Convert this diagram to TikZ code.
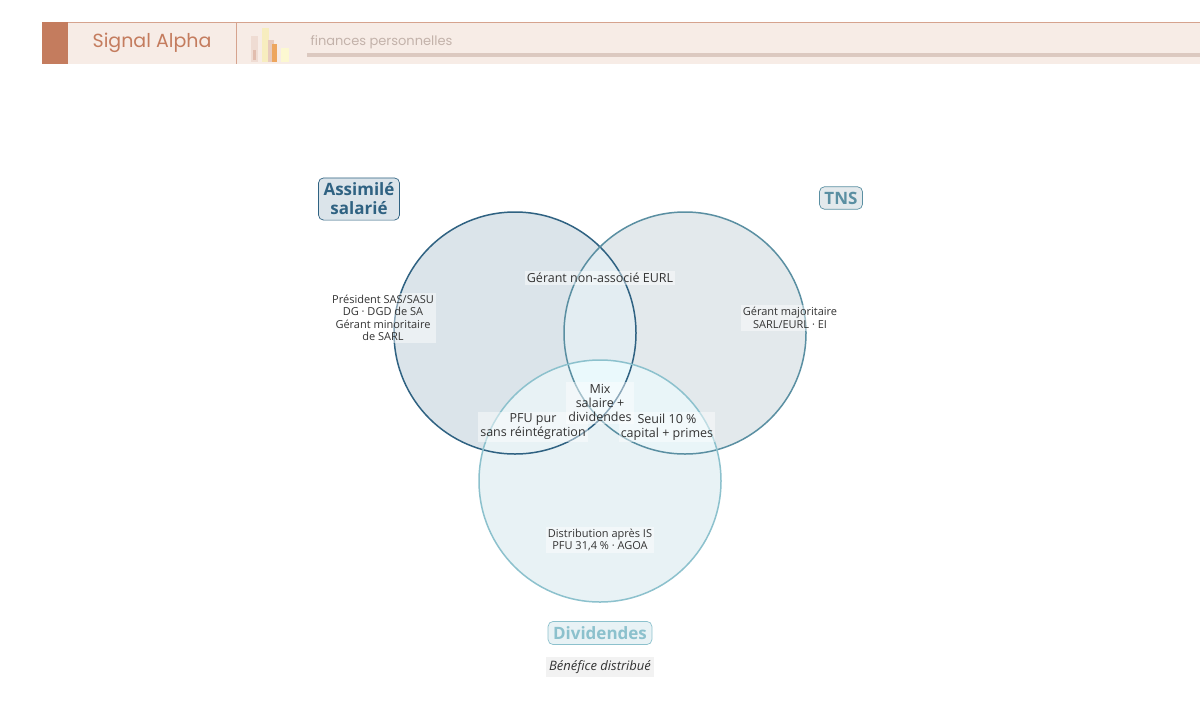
\documentclass[tikz,border=0pt]{standalone}
\usepackage{fontspec}
\setmainfont{Open Sans}
\newfontfamily\pop{Poppins}
\begin{document}
\begin{tikzpicture}[x=1pt,y=-1pt,
  lbl/.style={align=center,font=\fontsize{12.5}{14}\selectfont,text=black!80,fill=white,fill opacity=0.45,text opacity=1,inner sep=2pt},
  lbls/.style={lbl,font=\fontsize{11}{12.5}\selectfont},
  tag/.style={draw,rounded corners=5pt,line width=0.7pt,font=\bfseries\fontsize{17}{19}\selectfont,align=center,inner sep=5pt}]
\definecolor{cA}{HTML}{2F6282}\definecolor{fA}{HTML}{DBE4EA}
\definecolor{cT}{HTML}{5A8FA2}\definecolor{fT}{HTML}{E3E9EC}
\definecolor{cD}{HTML}{8CC1CD}\definecolor{fD}{HTML}{E8F2F5}
\definecolor{fAT}{HTML}{E3EDF2}\definecolor{fC}{HTML}{EAF9FC}\definecolor{fTD}{HTML}{E9F5F8}
\definecolor{brand}{HTML}{C47C5E}\definecolor{band}{HTML}{F7ECE6}
\useasboundingbox (0,0) rectangle (1200,721);
\fill[white] (0,0) rectangle (1200,721);
% header
\fill[band] (42,22) rectangle (1200,64);
\draw[brand!70,line width=0.8pt] (42,22) -- (1200,22);
\fill[brand] (42,22) rectangle (68,64);
\draw[brand!70,line width=0.6pt] (236,22) -- (236,64);
\node[font=\pop\fontsize{19}{21}\selectfont,text=brand] (brandname) at (152,43) {Signal Alpha};
\fill[brand!30,opacity=0.8] (251,36) rectangle (258,62);
\fill[brand!45!yellow!30] (262,28) rectangle (269,62);
\fill[brand!40] (268,40) rectangle (274,62);
\fill[orange!60!brown!70] (272,44) rectangle (277,62);
\fill[brand!25!yellow!20] (281,48) rectangle (289,62);
\fill[brand!50] (253,50) rectangle (256,60);
\node[anchor=west,font=\pop\fontsize{13}{15}\selectfont,text={brand!40!gray!60}] (sub) at (307,42) {finances personnelles};
\fill[brand!20!band!85!gray] (307,53) rectangle (1200,57);
% circles
\coordinate (A) at (515,333); \coordinate (T) at (685,333); \coordinate (D) at (600,481);
\fill[fA] (A) circle (121);
\fill[fT] (T) circle (121);
\fill[fD] (D) circle (121);
\begin{scope}\clip (A) circle (121); \fill[fAT] (T) circle (121);\end{scope}
\begin{scope}\clip (T) circle (121); \fill[fTD] (D) circle (121);\end{scope}
\begin{scope}\clip (A) circle (121); \clip (T) circle (121); \fill[fC] (D) circle (121);\end{scope}
\draw[cA,line width=1.5pt] (A) circle (121);
\draw[cT,line width=1.5pt] (T) circle (121);
\draw[cD,line width=1.5pt] (D) circle (121);
% labels
\node[lbls] (l1) at (383,318) {Président SAS/SASU\\DG · DGD de SA\\Gérant minoritaire\\de SARL};
\node[lbls] (l2) at (790,318) {Gérant majoritaire\\SARL/EURL · EI};
\node[lbls] (l3) at (600,540) {Distribution après IS\\PFU 31,4 \% · AGOA};
\node[lbl] (l4) at (600,278) {Gérant non-associé EURL};
\node[lbl] (l5) at (533,427) {PFU pur\\sans réintégration};
\node[lbl] (l6) at (667,427) {Seuil 10 \%\\capital + primes};
\node[lbl] (l7) at (600,403) {Mix\\salaire +\\dividendes};
% tags
\node[tag,text=cA,draw=cA,fill=fA] (tA) at (359,199) {Assimilé\\salarié};
\node[tag,text=cT,draw=cT,fill=fT] (tT) at (841,198) {TNS};
\node[tag,text=cD,draw=cD,fill=fD] (tD) at (600,633) {Dividendes};
\node[font=\itshape\fontsize{13}{15}\selectfont,fill=black!5,text=black!80,inner sep=3pt] (sub2) at (600,667) {Bénéfice distribué};
\end{tikzpicture}
\end{document}
